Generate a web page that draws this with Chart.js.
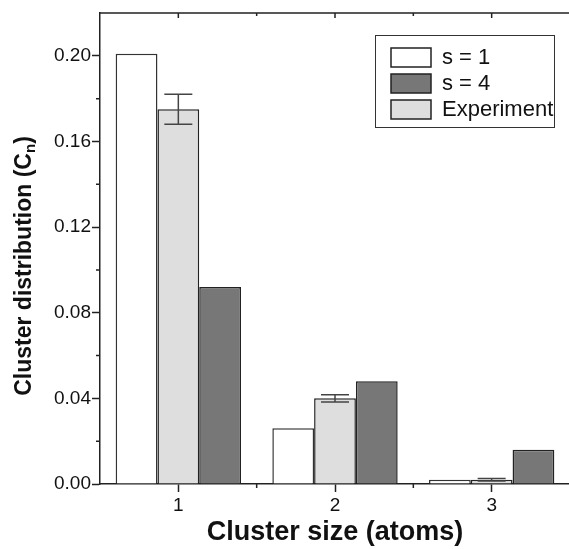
<!DOCTYPE html>
<html>
<head>
<meta charset="utf-8">
<script src="https://cdn.jsdelivr.net/npm/chart.js@4/dist/chart.umd.min.js"></script>
<style>
  html, body { margin: 0; padding: 0; background: #fff; overflow: hidden; }
  #wrap { width: 571px; height: 549px; }
</style>
</head>
<body>
<div id="wrap"><canvas id="clusterChart"></canvas></div>
<script>
const categories = ['1', '2', '3'];
const s1Values = [0.201, 0.026, 0.002];
const expValues = [0.175, 0.040, 0.002];
const expErrors = [0.007, 0.0017, 0.0006];
const s4Values = [0.092, 0.048, 0.016];
const yTicks = [0, 0.04, 0.08, 0.12, 0.16, 0.20];
const yMinorTicks = [0.02, 0.06, 0.10, 0.14, 0.18];
const legendOrder = ['s = 1', 's = 4', 'Experiment'];

const FONT = '"Liberation Sans", Arial, sans-serif';
const INK = '#222';

// error bars, extra ticks, y title and legend
const extras = {
    id: 'extras',
    afterDatasetsDraw(chart) {
        const ctx = chart.ctx;
        const y = chart.scales.y;
        const meta = chart.getDatasetMeta(1);
        ctx.save();
        ctx.strokeStyle = '#444';
        ctx.lineWidth = 1.5;
        meta.data.forEach((bar, i) => {
            const top = y.getPixelForValue(expValues[i] + expErrors[i]);
            const bot = y.getPixelForValue(expValues[i] - expErrors[i]);
            ctx.beginPath();
            ctx.moveTo(bar.x, top); ctx.lineTo(bar.x, bot);
            ctx.moveTo(bar.x - 14, top); ctx.lineTo(bar.x + 14, top);
            ctx.moveTo(bar.x - 14, bot); ctx.lineTo(bar.x + 14, bot);
            ctx.stroke();
        });
        ctx.restore();
    },
    afterDraw(chart) {
        const ctx = chart.ctx;
        const area = chart.chartArea;
        const x = chart.scales.x;
        const y = chart.scales.y;
        ctx.save();
        ctx.strokeStyle = INK;
        ctx.lineWidth = 1.5;
        ctx.beginPath();
        // top frame line
        ctx.moveTo(area.left, area.top); ctx.lineTo(area.right, area.top);
        // y minor ticks
        yMinorTicks.forEach(v => {
            const py = y.getPixelForValue(v);
            ctx.moveTo(area.left - 4, py); ctx.lineTo(area.left, py);
        });
        // x minor ticks + top ticks
        categories.forEach((c, i) => {
            const px = x.getPixelForValue(i);
            ctx.moveTo(px, area.top); ctx.lineTo(px, area.top + 5);
            if (i < categories.length - 1) {
                const mx = (px + x.getPixelForValue(i + 1)) / 2;
                ctx.moveTo(mx, area.bottom); ctx.lineTo(mx, area.bottom + 4);
                ctx.moveTo(mx, area.top); ctx.lineTo(mx, area.top + 3);
            }
        });
        ctx.stroke();

        // y title with subscript
        ctx.fillStyle = '#111';
        ctx.translate(25, 266);
        ctx.rotate(-Math.PI / 2);
        ctx.textBaseline = 'middle';
        const main = 'Cluster distribution (C';
        ctx.font = 'bold 23px ' + FONT;
        const wMain = ctx.measureText(main).width;
        ctx.font = 'bold 15px ' + FONT;
        const wSub = ctx.measureText('n').width;
        ctx.font = 'bold 23px ' + FONT;
        const wEnd = ctx.measureText(')').width;
        let sx = -(wMain + wSub + wEnd) / 2;
        ctx.fillText(main, sx, 0);
        sx += wMain;
        ctx.font = 'bold 15px ' + FONT;
        ctx.fillText('n', sx, 6);
        sx += wSub;
        ctx.font = 'bold 23px ' + FONT;
        ctx.fillText(')', sx, 0);
        ctx.restore();

        // legend
        ctx.save();
        ctx.strokeStyle = '#333';
        ctx.lineWidth = 1;
        ctx.strokeRect(375.5, 35.5, 179, 92);
        ctx.font = '22px ' + FONT;
        ctx.textBaseline = 'middle';
        legendOrder.forEach((name, r) => {
            const ds = chart.data.datasets.find(d => d.label === name);
            const ry = 48 + r * 26;
            ctx.fillStyle = ds.backgroundColor;
            ctx.fillRect(391, ry, 40, 19);
            ctx.lineWidth = 1.5;
            ctx.strokeStyle = INK;
            ctx.strokeRect(391, ry, 40, 19);
            ctx.fillStyle = '#111';
            ctx.fillText(name, 442, ry + 10);
        });
        ctx.restore();
    }
};

const ctx = document.getElementById('clusterChart').getContext('2d');
const clusterChart = new Chart(ctx, {
    type: 'bar',
    data: {
        labels: categories,
        datasets: [
            { label: 's = 1', data: s1Values, backgroundColor: '#ffffff', borderColor: '#333', borderWidth: 1.5 },
            { label: 'Experiment', data: expValues, backgroundColor: '#dedede', borderColor: INK, borderWidth: 1.5 },
            { label: 's = 4', data: s4Values, backgroundColor: '#777777', borderColor: INK, borderWidth: 1.5 }
        ]
    },
    options: {
        responsive: true,
        maintainAspectRatio: false,
        animation: false,
        layout: { padding: { top: 13, left: 0, right: 1, bottom: 0 } },
        datasets: { bar: { categoryPercentage: 0.8, barPercentage: 1.0 } },
        plugins: {
            legend: { display: false },
            tooltip: { enabled: false }
        },
        scales: {
            x: {
                offset: true,
                grid: { offset: false, drawOnChartArea: false, tickLength: 8, tickColor: INK, tickWidth: 1.5 },
                border: { color: INK, width: 1.5 },
                ticks: { color: '#111', font: { family: FONT, size: 19 }, padding: 2 },
                title: { display: true, text: 'Cluster size (atoms)', color: '#111',
                         font: { family: FONT, size: 27, weight: 'bold' }, padding: { top: 0, bottom: 0 } },
                afterFit(scale) { scale.height = 65; }
            },
            y: {
                min: 0,
                max: 0.22,
                afterBuildTicks(scale) { scale.ticks = yTicks.map(v => ({ value: v })); },
                grid: { drawOnChartArea: false, tickLength: 8, tickColor: INK, tickWidth: 1.5 },
                border: { color: INK, width: 1.5 },
                ticks: { color: '#111', font: { family: FONT, size: 19 }, padding: 1,
                         callback: v => v.toFixed(2) },
                afterFit(scale) { scale.width = 100; }
            }
        }
    },
    plugins: [extras]
});
</script>
</body>
</html>
